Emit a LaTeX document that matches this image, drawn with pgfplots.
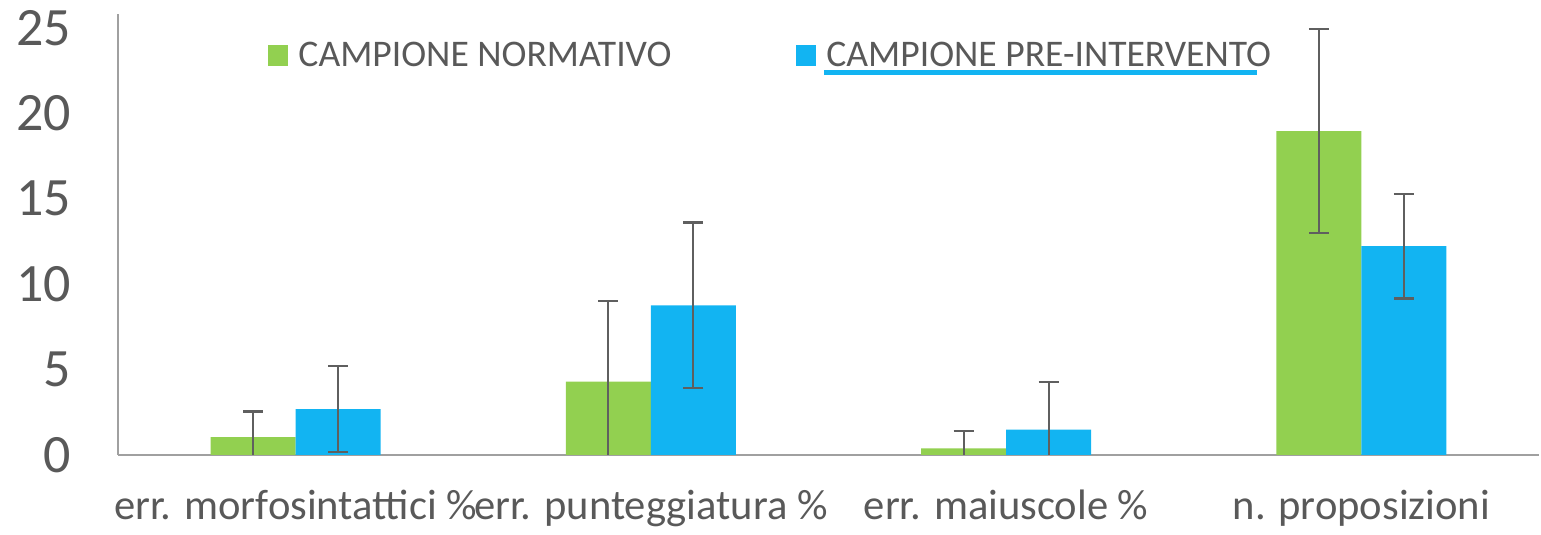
\documentclass[border=0pt]{standalone}
\usepackage{fontspec}
\setmainfont{Carlito}
\usepackage{pgfplots}
\pgfplotsset{compat=1.18}
\definecolor{cgreen}{HTML}{92D050}
\definecolor{cblue}{HTML}{12B4F2}
\definecolor{ctext}{HTML}{595959}
\definecolor{caxis}{HTML}{A0A0A0}
\definecolor{cerr}{HTML}{5F5F5F}
\begin{document}
\begin{tikzpicture}
\begin{axis}[
  scale only axis,
  width=710.5pt, height=220.5pt,
  xmin=-0.5, xmax=3.5,
  ymin=0, ymax=25.8,
  ybar=0pt, bar width=42.5pt,
  axis x line=bottom, axis y line=left,
  axis line style={caxis, line width=1pt, -},
  xtick={0,1,2,3},
  xticklabels={err. morfosintattici \%, err. punteggiatura \%, err. maiuscole \%, n. proposizioni},
  ytick={0,5,10,15,20,25},
  major tick length=0pt,
  /pgf/number format/assume math mode=true,
  xticklabel style={font=\fontsize{21.3}{24}\selectfont, text=ctext, yshift=-14pt},
  yticklabel style={font=\fontsize{27}{31}\selectfont, text=ctext, xshift=-20pt},
  legend columns=2,
  legend style={draw=none, fill=none, at={(rel axis cs:0.1056,0.905)}, anchor=west,
    font=\fontsize{18.8}{22}\selectfont, text=ctext, inner sep=0pt,
    /tikz/every even column/.append style={column sep=57.5pt}},
  legend image code/.code={\fill[#1] (0pt,-5.25pt) rectangle (10pt,5.25pt);},
  legend cell align=left,
  legend style={nodes={inner xsep=5pt}},
  error bars/y dir=both, error bars/y explicit,
  error bars/error bar style={cerr, line width=1.1pt},
  error bars/error mark options={cerr, line width=1.1pt, mark size=5pt, rotate=90},
]
\addplot[fill=cgreen, draw=none] coordinates {
  (0,1.05) +- (0,1.5)
  (1,4.29) +- (0,4.71)
  (2,0.39) +- (0,1.03)
  (3,18.95) +- (0,5.95)
};
\addplot[fill=cblue, draw=none] coordinates {
  (0,2.69) +- (0,2.5)
  (1,8.75) +- (0,4.85)
  (2,1.48) +- (0,2.77)
  (3,12.22) +- (0,3.06)
};
\legend{CAMPIONE NORMATIVO, CAMPIONE PRE-INTERVENTO}
\draw[cblue, line width=2.8pt] (rel axis cs:0.4968,0.867) -- (rel axis cs:0.8015,0.867);
\end{axis}
\pgfresetboundingbox
\path ([xshift=-59pt,yshift=-40pt]current axis.south west) rectangle ([xshift=1pt,yshift=7pt]current axis.north east);
\end{tikzpicture}
\end{document}
